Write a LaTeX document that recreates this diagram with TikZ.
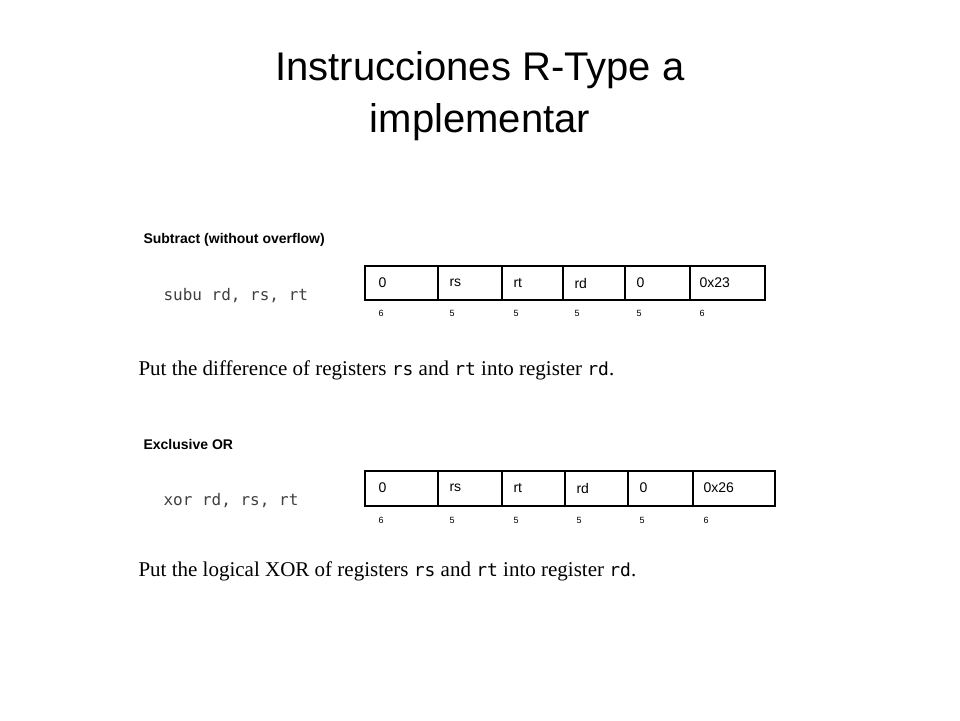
\documentclass[tikz,border=0pt]{standalone}
\usepackage{fontspec}
\setmainfont{Liberation Sans}
\newfontfamily\serf{Liberation Serif}
\newfontfamily\mono{DejaVu Sans Mono}
\begin{document}
\begin{tikzpicture}[x=1pt,y=-1pt,
  fld/.style={anchor=west,font=\fontsize{14}{16}\selectfont},
  bits/.style={anchor=west,font=\fontsize{9}{10}\selectfont},
  hd/.style={anchor=west,font=\bfseries\fontsize{14}{16}\selectfont},
  code/.style={anchor=west,font=\mono\fontsize{16}{18}\selectfont,text=black!75},
  sent/.style={anchor=west,font=\serf\fontsize{21}{24}\selectfont},
  cell/.style={draw,line width=1.3pt}]
\useasboundingbox (0,0) rectangle (960,720);
\node[font=\fontsize{40}{52}\selectfont,align=center] (title) at (480,96) {Instrucciones R-Type a\\implementar};
% first
\node[hd] (h1) at (140,240) {Subtract (without overflow)};
\node[code] (c1) at (160,296) {subu rd, rs, rt};
\draw[cell] (365,266) rectangle (765,300);
\foreach \x in {438,502,563,625,690} \draw[cell] (\x,266) -- (\x,300);
\node[fld] (a1) at (375,283) {0};
\node[fld] (a2) at (446,283) {rs};
\node[fld] (a3) at (510,283) {rt};
\node[fld] (a4) at (571,283) {rd};
\node[fld] (a5) at (633,283) {0};
\node[fld] (a6) at (696,283) {0x23};
\foreach \x/\t in {375/6,446/5,510/5,571/5,633/5,696/6} \node[bits] at (\x,313) {\t};
\node[sent] (s1) at (135,370) {Put the difference of registers {\mono\fontsize{18}{20}\selectfont rs} and {\mono\fontsize{18}{20}\selectfont rt} into register {\mono\fontsize{18}{20}\selectfont rd}.};
% second
\node[hd] (h2) at (140,444) {Exclusive OR};
\node[code] (c2) at (160,501) {xor rd, rs, rt};
\draw[cell] (365,471) rectangle (775,506);
\foreach \x in {438,502,565,628,693} \draw[cell] (\x,471) -- (\x,506);
\node[fld] (b1) at (375,488) {0};
\node[fld] (b2) at (446,488) {rs};
\node[fld] (b3) at (510,488) {rt};
\node[fld] (b4) at (573,488) {rd};
\node[fld] (b5) at (636,488) {0};
\node[fld] (b6) at (700,488) {0x26};
\foreach \x/\t in {375/6,446/5,510/5,573/5,636/5,700/6} \node[bits] at (\x,520) {\t};
\node[sent] (s2) at (135,571) {Put the logical XOR of registers {\mono\fontsize{18}{20}\selectfont rs} and {\mono\fontsize{18}{20}\selectfont rt} into register {\mono\fontsize{18}{20}\selectfont rd}.};
\end{tikzpicture}
\end{document}
